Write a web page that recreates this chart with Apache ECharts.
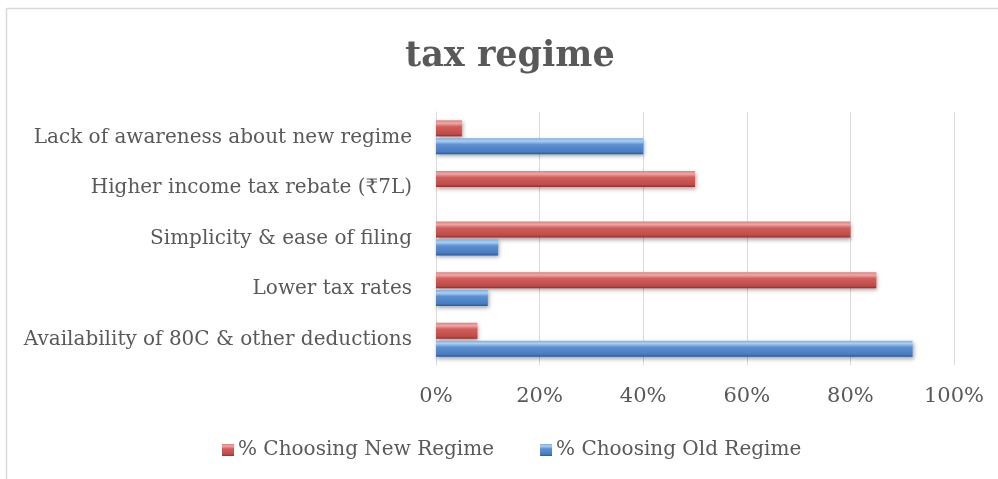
<!DOCTYPE html>
<html>
<head>
<meta charset="utf-8">
<script src="https://cdn.jsdelivr.net/npm/echarts@6/dist/echarts.min.js"></script>
<style>
html,body{margin:0;padding:0;background:#fff;}
#c{width:998px;height:479px;}
</style>
</head>
<body>
<div id="c"></div>
<script>
var categories = [
  'Availability of 80C & other deductions',
  'Lower tax rates',
  'Simplicity & ease of filing',
  'Higher income tax rebate (₹7L)',
  'Lack of awareness about new regime'
];
var newRegime = [8, 85, 80, 50, 5];
var oldRegime = [92, 10, 12, 0, 40];
var xTicks = [0, 20, 40, 60, 80, 100];

var FONT = '"DejaVu Serif", serif';
var TXT = '#595959';

function grad(c0, c1, c2, c3, c4) {
  return new echarts.graphic.LinearGradient(0, 0, 0, 1, [
    {offset: 0, color: c0},
    {offset: 0.18, color: c1},
    {offset: 0.4, color: c2},
    {offset: 0.85, color: c3},
    {offset: 1, color: c4}
  ]);
}
var redFill = grad('#e07c7a', '#f3a6a4', '#d25e5b', '#bd4d4a', '#8a3230');
var blueFill = grad('#7eaee6', '#a8cff5', '#5b90d2', '#4a7cbf', '#2f578c');

var chart = echarts.init(document.getElementById('c'));
chart.setOption({
  animation: false,
  backgroundColor: '#fff',
  graphic: [
    {
      type: 'line',
      shape: {x1: 6.5, y1: 8.5, x2: 998, y2: 8.5},
      style: {stroke: '#d9d9d9', lineWidth: 1.5},
      silent: true, z: -1
    },
    {
      type: 'line',
      shape: {x1: 6.5, y1: 8.5, x2: 6.5, y2: 479},
      style: {stroke: '#d9d9d9', lineWidth: 1.5},
      silent: true, z: -1
    }
  ],
  title: {
    text: 'tax regime',
    left: 405,
    top: 39,
    padding: 0,
    textStyle: {fontFamily: FONT, fontWeight: 'bold', fontSize: 35, color: TXT}
  },
  legend: {
    data: ['% Choosing New Regime', '% Choosing Old Regime'],
    bottom: 19,
    left: 222,
    padding: 0,
    itemWidth: 12,
    itemHeight: 12,
    itemGap: 46,
    icon: 'rect',
    textStyle: {fontFamily: FONT, fontSize: 20, color: TXT, padding: [0, 0, 0, -1]}
  },
  grid: {left: 436, right: 44, top: 112, bottom: 114, containLabel: false},
  xAxis: {
    type: 'value',
    min: 0,
    max: 100,
    interval: 20,
    axisLine: {show: false},
    axisTick: {show: false},
    splitLine: {lineStyle: {color: '#d9d9d9', width: 1}},
    axisLabel: {
      fontFamily: FONT, fontSize: 21, color: TXT, margin: 21,
      formatter: function (v) { return xTicks.indexOf(v) >= 0 ? v + '%' : ''; }
    }
  },
  yAxis: {
    type: 'category',
    data: categories,
    axisLine: {show: true, lineStyle: {color: '#d9d9d9'}},
    axisTick: {show: false},
    axisLabel: {fontFamily: FONT, fontSize: 20, color: TXT, margin: 24}
  },
  series: [
    {
      name: '% Choosing New Regime',
      type: 'bar',
      data: newRegime,
      barWidth: 16,
      barGap: '12%',
      itemStyle: {
        color: redFill,
        borderWidth: 0,
        shadowColor: 'rgba(0,0,0,0.35)', shadowBlur: 4, shadowOffsetX: 1, shadowOffsetY: 2
      }
    },
    {
      name: '% Choosing Old Regime',
      type: 'bar',
      data: oldRegime,
      barWidth: 16,
      barGap: '12%',
      itemStyle: {
        color: blueFill,
        borderWidth: 0,
        shadowColor: 'rgba(0,0,0,0.35)', shadowBlur: 4, shadowOffsetX: 1, shadowOffsetY: 2
      }
    }
  ]
});
</script>
</body>
</html>
